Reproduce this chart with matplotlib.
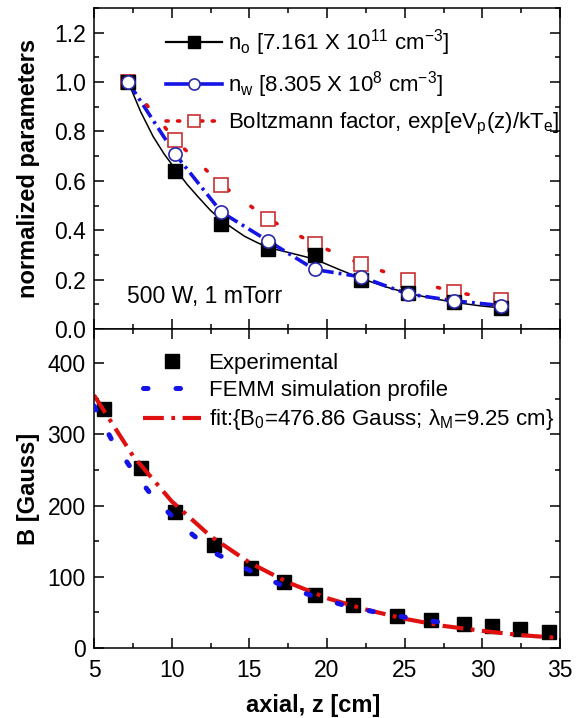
import numpy as np
import matplotlib
matplotlib.use("Agg")
import matplotlib.pyplot as plt
from matplotlib.lines import Line2D
from matplotlib.ticker import MultipleLocator

plt.rcParams['font.family'] = ['Liberation Sans', 'DejaVu Sans']
plt.rcParams['mathtext.default'] = 'regular'

# top panel: normalized parameters vs axial position
z_top = [7.2, 10.2, 13.2, 16.2, 19.2, 22.2, 25.2, 28.2, 31.2]
n_o = [1.0, 0.638, 0.426, 0.323, 0.30, 0.198, 0.144, 0.108, 0.085]
n_w = [1.0, 0.71, 0.473, 0.357, 0.241, 0.211, 0.142, 0.114, 0.095]
boltz = [1.0, 0.767, 0.584, 0.446, 0.344, 0.263, 0.2, 0.15, 0.117]

# smooth curve drawn through n_o
z_no_curve = [7.2, 8.0, 8.8, 9.5, 10.2, 11.0, 11.7, 12.5, 13.2, 14.0, 14.7,
              15.5, 16.2, 17.7, 19.2, 20.7, 22.2, 23.7, 25.2, 26.7, 28.2,
              29.7, 31.2]
no_curve = [1.0, 0.88, 0.78, 0.71, 0.65, 0.585, 0.535, 0.48, 0.44, 0.405,
            0.375, 0.35, 0.33, 0.307, 0.283, 0.243, 0.205, 0.172, 0.145,
            0.125, 0.108, 0.095, 0.085]

# bottom panel: magnetic field
z_exp = [5.65, 8.0, 10.2, 12.7, 15.1, 17.2, 19.2, 21.7, 24.5, 26.7, 28.8,
         30.6, 32.4, 34.3]
B_exp = [335, 253, 191, 145, 112, 93, 75, 60, 45, 39, 34, 31, 26, 23]

z_femm = [5.0, 6.1, 7.4, 8.9, 10.8, 12.8, 15.0, 17.2, 19.1, 21.1, 23.2,
          25.1, 27.0, 27.4]
B_femm = [340, 294, 252, 209, 169, 133, 109, 87, 73, 60, 50, 43, 37, 36]

z_fit = [5, 7.5, 10, 12.5, 15, 17.5, 20, 22.5, 25, 27.5, 30, 32.5, 35]
B_fit = [355, 270, 206, 157, 120, 92, 70, 54, 41, 31, 24, 18, 14]

blue = '#1414e6'
navy = '#2a2aa8'
red = '#e01010'
dred = '#c83232'

fig = plt.figure(figsize=(5.84, 7.18), dpi=100)
ax1 = fig.add_axes([0.161, 0.5418, 0.798, 0.4471])
ax2 = fig.add_axes([0.161, 0.0975, 0.798, 0.4443])

for ax in (ax1, ax2):
    ax.tick_params(which='both', direction='in', top=True, right=True,
                   width=1.1, labelsize=16.5)
    ax.tick_params(which='major', length=7)
    ax.tick_params(which='minor', length=3.5)
    ax.tick_params(axis='y', pad=6)
    ax.tick_params(axis='x', pad=8)
    for s in ax.spines.values():
        s.set_linewidth(1.1)
    ax.set_xlim(5, 35)
    ax.xaxis.set_major_locator(MultipleLocator(5))
    ax.xaxis.set_minor_locator(MultipleLocator(2.5))

# ---- top
ax1.plot(z_no_curve, no_curve, color='k', lw=1.1, zorder=2)
ax1.plot(z_top, n_w, color=blue, lw=2.6, dashes=(4, 1.4, 0.8, 1.4), zorder=2)
ax1.plot(z_top, boltz, color=red, lw=2.6, dashes=(0.6, 7.5),
         dash_capstyle='round', zorder=2)
ax1.plot(z_top, n_o, ls='none', marker='s', ms=9.5, color='k', zorder=4)
ax1.plot(z_top, n_w, ls='none', marker='o', ms=9.5, mfc='white', mec=navy,
         mew=1.2, zorder=4)
ax1.plot(z_top, boltz, ls='none', marker='s', ms=9.5, mfc='white', mec=dred,
         mew=1.2, zorder=3)

ax1.set_ylim(0, 1.3)
ax1.yaxis.set_major_locator(MultipleLocator(0.2))
ax1.yaxis.set_minor_locator(MultipleLocator(0.1))
ax1.yaxis.set_major_formatter(plt.FormatStrFormatter('%.1f'))
ax1.tick_params(axis='x', labelbottom=False)
ax1.set_ylabel('normalized parameters', fontsize=17, fontweight='bold')
ax1.yaxis.set_label_coords(-0.115, 0.5)
ax1.text(7.1, 0.13, '500 W, 1 mTorr', fontsize=16.5, va='center')

h1 = [
    Line2D([], [], color='k', lw=1.6, marker='s', ms=8),
    Line2D([], [], color=blue, lw=2.6, marker='o', ms=8, mfc='white',
           mec=navy, mew=1.2),
    Line2D([], [], color=red, lw=2.6, dashes=(0.6, 2.6),
           dash_capstyle='round', marker='s', ms=8, mfc='white', mec=dred,
           mew=1.2),
]
l1 = [r'n$_o$ [7.161 X 10$^{11}$ cm$^{-3}$]',
      r'n$_w$ [8.305 X 10$^{8}$ cm$^{-3}$]',
      r'Boltzmann factor, exp[eV$_p$(z)/kT$_e$]']
ax1.legend(h1, l1, loc='upper left', bbox_to_anchor=(0.155, 0.94),
           frameon=False, fontsize=16, handlelength=2.5, handletextpad=0.3,
           labelspacing=0.5, borderaxespad=0, borderpad=0)

# ---- bottom
ax2.plot(z_fit, B_fit, color=red, lw=3, dashes=(5, 1.8, 0.9, 1.8), zorder=2)
ax2.plot(z_femm, B_femm, color=blue, lw=3.6, dashes=(0.9, 5.6),
         dash_capstyle='round', zorder=3)
ax2.plot(z_exp, B_exp, ls='none', marker='s', ms=10, color='k', zorder=1.5)

ax2.set_ylim(0, 448)
ax2.yaxis.set_major_locator(MultipleLocator(100))
ax2.yaxis.set_minor_locator(MultipleLocator(50))
ax2.set_ylabel('B [Gauss]', fontsize=17, fontweight='bold')
ax2.yaxis.set_label_coords(-0.115, 0.5)
ax2.set_xlabel('axial, z [cm]', fontsize=17, fontweight='bold')
ax2.xaxis.set_label_coords(0.47, -0.145)

h2 = [
    Line2D([], [], ls='none', marker='s', ms=10, color='k'),
    Line2D([], [], color=blue, lw=3.6, dashes=(0.9, 5.6),
           dash_capstyle='round'),
    Line2D([], [], color=red, lw=3, dashes=(5, 1.8, 0.9, 1.8)),
]
l2 = ['Experimental', 'FEMM simulation profile',
      r'fit:{B$_0$=476.86 Gauss; λ$_M$=9.25 cm}']
ax2.legend(h2, l2, loc='upper left', bbox_to_anchor=(0.105, 0.925),
           frameon=False, fontsize=16, handlelength=2.6, handletextpad=0.35,
           labelspacing=0.28, borderaxespad=0, borderpad=0)

fig.savefig('out.png', dpi=100)
